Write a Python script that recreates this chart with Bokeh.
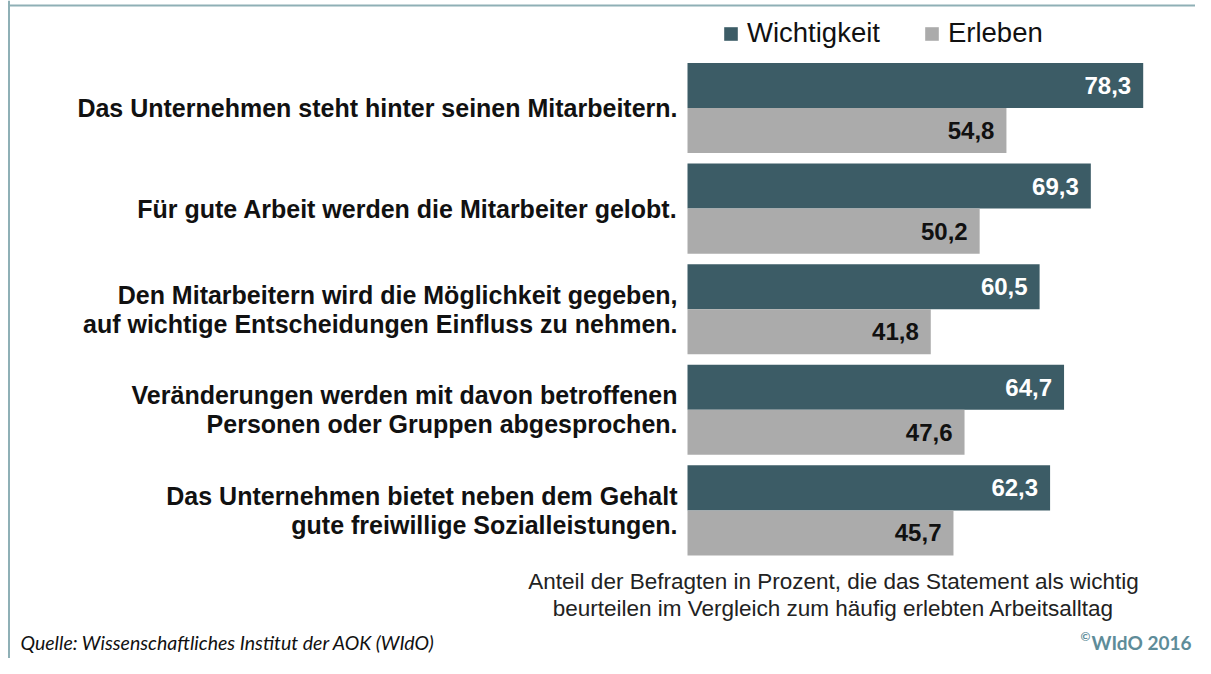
from bokeh.plotting import figure
from bokeh.models import Range1d, Legend, LegendItem, ColumnDataSource
from bokeh.core.properties import value
from bokeh.embed import file_html
from bokeh.resources import INLINE

# ---------------- data ----------------
categories = [
    "Das Unternehmen steht hinter seinen Mitarbeitern.",
    "Für gute Arbeit werden die Mitarbeiter gelobt.",
    "Den Mitarbeitern wird die Möglichkeit gegeben,\nauf wichtige Entscheidungen Einfluss zu nehmen.",
    "Veränderungen werden mit davon betroffenen\nPersonen oder Gruppen abgesprochen.",
    "Das Unternehmen bietet neben dem Gehalt\ngute freiwillige Sozialleistungen.",
]
wichtigkeit = [78.3, 69.3, 60.5, 64.7, 62.3]
erleben = [54.8, 50.2, 41.8, 47.6, 45.7]
series_names = ["Wichtigkeit", "Erleben"]
note_text = ("Anteil der Befragten in Prozent, die das Statement als wichtig\n"
             "beurteilen im Vergleich zum häufig erlebten Arbeitsalltag")
source_text = "Quelle: Wissenschaftliches Institut der AOK (WIdO)"
copyright_text = "WIdO 2016"

# ---------------- layout helpers ----------------
W, H = 1195, 658
PXU = 5.82          # pixels per percent
X0 = 687            # px of value 0
PITCH = 100.6       # pixels per category
Y_TOP = -107.5 / PITCH
Y_BOTTOM = Y_TOP + H / PITCH

def dx(px):
    return (px - X0) / PXU

def dy(py):
    return Y_TOP + py / PITCH

DARK = "#3c5c66"
GRAY = "#ababab"
BORDER = "#8fb0b6"
FONT = "Liberation Sans"

p = figure(width=W, height=H, output_backend="svg", toolbar_location=None,
           x_range=Range1d(-X0 / PXU, (W - X0) / PXU),
           y_range=Range1d(Y_BOTTOM, Y_TOP),
           x_axis_location=None, y_axis_location=None,
           min_border=0, outline_line_color=None)
p.xgrid.visible = False
p.ygrid.visible = False
p.background_fill_color = "white"
p.border_fill_color = "white"

idx = list(range(len(categories)))
BAR_H = 0.448
OFF = BAR_H / 2

src_w = ColumnDataSource(dict(y=[i - OFF for i in idx], v=wichtigkeit,
                              lab=[f"{v:.1f}".replace(".", ",") for v in wichtigkeit],
                              lx=[v - 12 / PXU for v in wichtigkeit]))
src_e = ColumnDataSource(dict(y=[i + OFF for i in idx], v=erleben,
                              lab=[f"{v:.1f}".replace(".", ",") for v in erleben],
                              lx=[v - 12 / PXU for v in erleben]))

r_w = p.hbar(y="y", left=0, right="v", height=BAR_H, source=src_w,
             fill_color=DARK, line_color=None)
r_e = p.hbar(y="y", left=0, right="v", height=BAR_H, source=src_e,
             fill_color=GRAY, line_color=None)

p.text(x="lx", y="y", text="lab", source=src_w, text_align="right",
       text_baseline="middle", text_color="white", text_font=value(FONT),
       text_font_style="bold", text_font_size="24px")
p.text(x="lx", y="y", text="lab", source=src_e, text_align="right",
       text_baseline="middle", text_color="#111111", text_font=value(FONT),
       text_font_style="bold", text_font_size="24px")

# category labels
src_c = ColumnDataSource(dict(x=[dx(677)] * len(idx), y=idx, t=categories))
p.text(x="x", y="y", text="t", source=src_c, text_align="right",
       text_baseline="middle", text_color="#111111", text_font=value(FONT),
       text_font_style="bold", text_font_size="25px", text_line_height=1.04)

# note below chart
p.text(x=[dx(833)], y=[dy(594.5)], text=[note_text], text_align="center",
       text_baseline="middle", text_color="#222222", text_font=value(FONT),
       text_font_size="22.5px", text_line_height=1.07)

# source + copyright
p.text(x=[dx(20)], y=[dy(642)], text=[source_text], text_align="left",
       text_baseline="alphabetic", text_color="#111111", text_font=value("Lato"),
       text_font_style="italic", text_font_size="19.5px")
p.text(x=[dx(1191)], y=[dy(642)], text=[copyright_text], text_align="right",
       text_baseline="alphabetic", text_color="#5e8c99", text_font=value("Lato"),
       text_font_style="bold", text_font_size="19px")
p.text(x=[dx(1090)], y=[dy(636)], text=["©"], text_align="right",
       text_baseline="alphabetic", text_color="#5e8c99", text_font=value("Lato"),
       text_font_style="bold", text_font_size="12px")

# frame lines (top and left)
p.line(x=[dx(8.5), dx(1300)], y=[dy(5), dy(5)], line_color=BORDER, line_width=2)
p.line(x=[dx(8.5), dx(8.5)], y=[dy(0), dy(700)], line_color=BORDER, line_width=2)

legend = Legend(items=[LegendItem(label=series_names[0], renderers=[r_w]),
                       LegendItem(label=series_names[1], renderers=[r_e])],
                orientation="horizontal", location=(722, 609),
                glyph_width=17, glyph_height=17, label_standoff=8, spacing=43,
                padding=0, margin=0, border_line_color=None,
                background_fill_alpha=0,
                label_text_font=FONT, label_text_font_size="27.5px",
                label_text_color="#111111")
p.add_layout(legend)

open("out.html", "w").write(file_html(p, INLINE))
